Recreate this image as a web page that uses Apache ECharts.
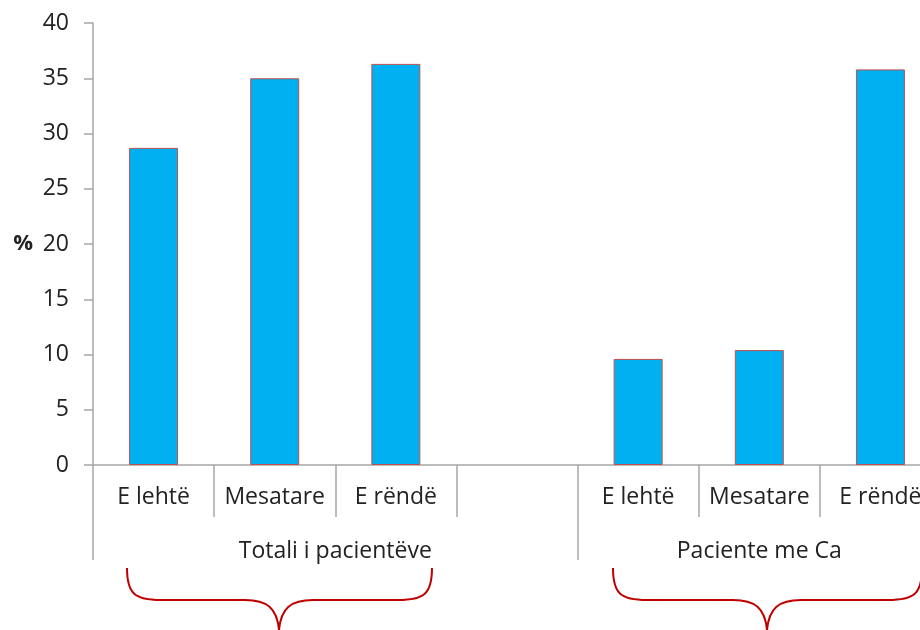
<!DOCTYPE html>
<html lang="sq">
<head>
    <meta charset="UTF-8">
    <title>Totali i pacientëve / Paciente me Ca</title>
    <script src="https://cdn.jsdelivr.net/npm/echarts@6/dist/echarts.min.js"></script>
    <style>
        html, body { margin: 0; padding: 0; background: #fff; }
        #main { width: 920px; height: 630px; }
    </style>
</head>
<body>
<div id="main"></div>
<script type="text/javascript">
    // te dhenat
    var categories = ['E lehtë', 'Mesatare', 'E rëndë', '', 'E lehtë', 'Mesatare', 'E rëndë'];
    var values = [28.7, 35.0, 36.3, null, 9.6, 10.4, 35.8];
    var groupNames = ['Totali i pacientëve', 'Paciente me Ca'];
    var groupCenters = [2, 5.5];     // ne njesi te kategorive
    var groupBounds = [0, 4];
    var yTicks = [0, 40, 5];         // min, max, interval

    var font = 'Open Sans';
    var gray = '#a6a6a6';
    var red = '#c00000';

    // kllapa e kuqe poshte grupit (vetem dekor)
    function brace(xl, xm, xr) {
        var top = 568, mid = 600, tip = 630;
        var st = { stroke: red, lineWidth: 2, fill: null };
        return [
            { type: 'bezierCurve', silent: true, style: st,
              shape: { x1: xl, y1: top, cpx1: xl, cpy1: mid - 6, cpx2: xl + 8, cpy2: mid, x2: xl + 34, y2: mid } },
            { type: 'line', silent: true, style: st,
              shape: { x1: xl + 34, y1: mid, x2: xm - 34, y2: mid } },
            { type: 'bezierCurve', silent: true, style: st,
              shape: { x1: xm - 34, y1: mid, cpx1: xm - 12, cpy1: mid, cpx2: xm - 2, cpy2: mid + 8, x2: xm, y2: tip } },
            { type: 'bezierCurve', silent: true, style: st,
              shape: { x1: xm, y1: tip, cpx1: xm + 2, cpy1: mid + 8, cpx2: xm + 12, cpy2: mid, x2: xm + 34, y2: mid } },
            { type: 'line', silent: true, style: st,
              shape: { x1: xm + 34, y1: mid, x2: xr - 34, y2: mid } },
            { type: 'bezierCurve', silent: true, style: st,
              shape: { x1: xr - 34, y1: mid, cpx1: xr - 8, cpy1: mid, cpx2: xr, cpy2: mid - 6, x2: xr, y2: top } }
        ];
    }

    var myChart = echarts.init(document.getElementById('main'));
    var option = {
        animation: false,
        grid: { left: 93, top: 23, width: 848, height: 442, outerBoundsMode: 'none' },
        xAxis: [
            {
                type: 'category',
                data: categories,
                axisLine: { lineStyle: { color: gray, width: 1.5 } },
                axisTick: { show: true, interval: 0, length: 52, lineStyle: { color: gray, width: 1.5 } },
                axisLabel: { interval: 0, margin: 21, color: '#222', fontFamily: font, fontSize: 23 }
            },
            {
                type: 'value',
                min: 0,
                max: 7,
                position: 'bottom',
                axisLine: { show: false },
                splitLine: { show: false },
                axisTick: { show: true, customValues: groupBounds, length: 95, lineStyle: { color: gray, width: 1.5 } },
                axisLabel: {
                    customValues: groupCenters,
                    margin: 75,
                    color: '#222', fontFamily: font, fontSize: 23,
                    formatter: function (v) {
                        var i = groupCenters.indexOf(+v);
                        return i >= 0 ? groupNames[i] : '';
                    }
                }
            }
        ],
        yAxis: {
            type: 'value',
            min: yTicks[0],
            max: yTicks[1],
            interval: yTicks[2],
            name: '%',
            nameLocation: 'middle',
            nameRotate: 0,
            nameGap: 60,
            nameTextStyle: { color: '#222', fontFamily: font, fontSize: 22, fontWeight: 'bold' },
            axisLine: { show: true, lineStyle: { color: gray, width: 1.5 } },
            axisTick: { show: true, length: 9, lineStyle: { color: gray, width: 1.5 } },
            splitLine: { show: false },
            axisLabel: { margin: 24, color: '#222', fontFamily: font, fontSize: 23 }
        },
        series: [{
            type: 'bar',
            data: values,
            barWidth: 49,
            itemStyle: { color: '#00b0f0', borderColor: '#c0504d', borderWidth: 1 }
        }],
        graphic: brace(127, 279, 432).concat(brace(613, 767, 922))
    };
    myChart.setOption(option);
</script>
</body>
</html>
